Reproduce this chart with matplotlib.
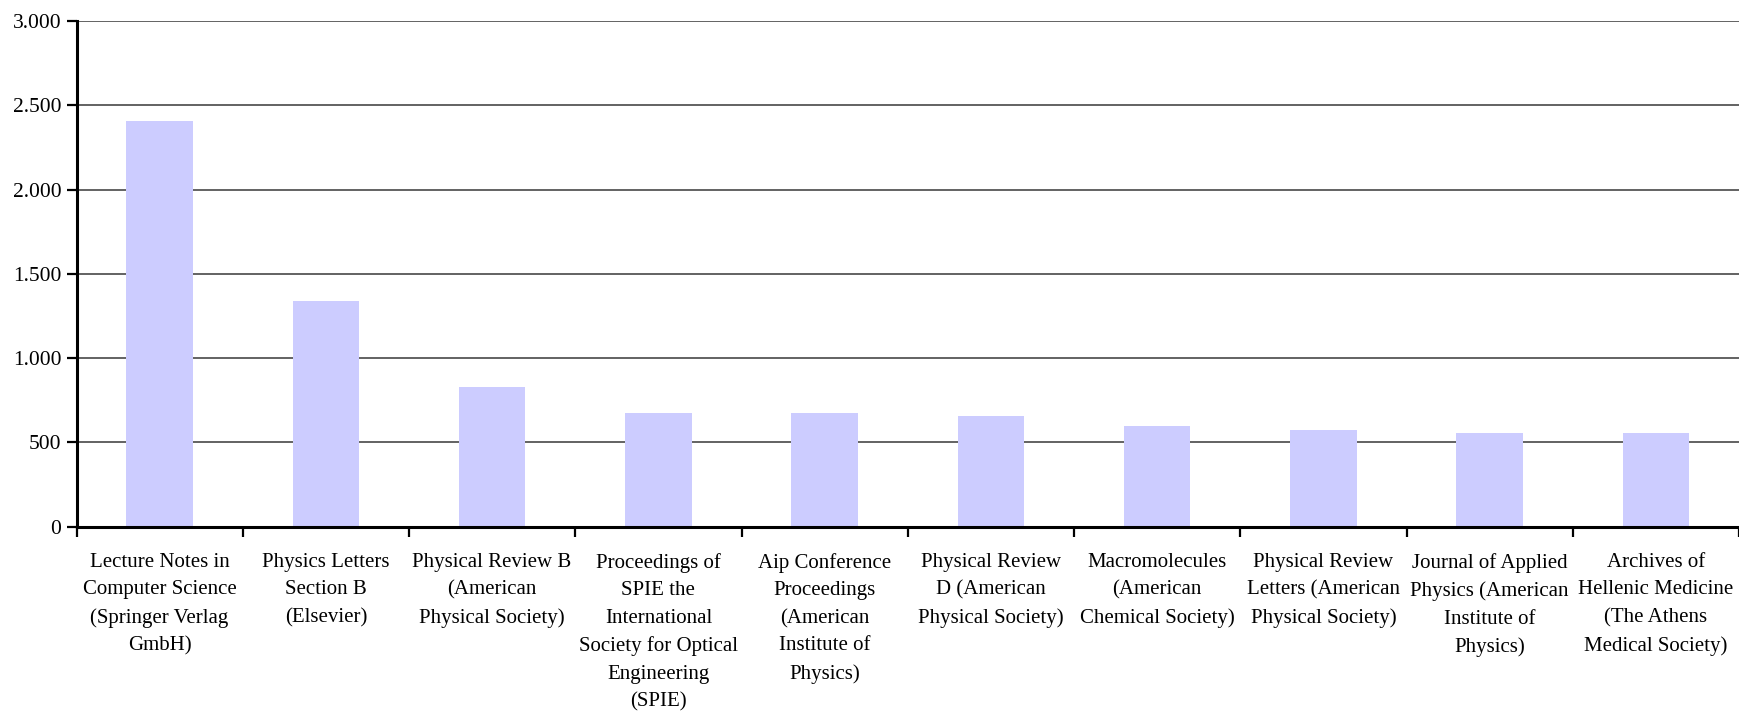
import numpy as np
import matplotlib
matplotlib.use("Agg")
import matplotlib.pyplot as plt
from matplotlib.ticker import FixedLocator

# === DATA ===
journals = [
    "Lecture Notes in\nComputer Science\n(Springer Verlag\nGmbH)",
    "Physics Letters\nSection B\n(Elsevier)",
    "Physical Review B\n(American\nPhysical Society)",
    "Proceedings of\nSPIE the\nInternational\nSociety for Optical\nEngineering\n(SPIE)",
    "Aip Conference\nProceedings\n(American\nInstitute of\nPhysics)",
    "Physical Review\nD (American\nPhysical Society)",
    "Macromolecules\n(American\nChemical Society)",
    "Physical Review\nLetters (American\nPhysical Society)",
    "Journal of Applied\nPhysics (American\nInstitute of\nPhysics)",
    "Archives of\nHellenic Medicine\n(The Athens\nMedical Society)",
]
counts = [2405, 1337, 827, 672, 672, 655, 596, 572, 554, 554]
y_ticks = [0, 500, 1000, 1500, 2000, 2500, 3000]
y_tick_labels = ["0", "500", "1.000", "1.500", "2.000", "2.500", "3.000"]

plt.rcParams['font.family'] = ['Liberation Serif', 'DejaVu Serif']

fig = plt.figure(figsize=(17.39, 7.13), dpi=100)
ax = fig.add_axes([76.5 / 1739, 1 - 526.5 / 713, 1 - 76.5 / 1739, (526.5 - 21) / 713])

x = np.arange(len(journals))
ax.bar(x, counts, width=0.4, color='#CCCCFF', zorder=2)

ax.set_xlim(-0.5, len(journals) - 0.5)
ax.set_ylim(0, 3000)

# gridlines behind bars
ax.set_yticks(y_ticks)
ax.set_yticklabels(y_tick_labels, fontsize=15.5)
ax.yaxis.grid(True, color='#383838', linewidth=1.1, zorder=0)
ax.set_axisbelow(True)

# labels centred, ticks at category boundaries
ax.set_xticks(x)
ax.set_xticklabels(journals, fontsize=15, linespacing=1.6, va='top')
ax.xaxis.set_minor_locator(FixedLocator(np.arange(-0.5, len(journals), 1.0)))
ax.tick_params(axis='x', which='major', length=0, pad=19)
ax.tick_params(axis='x', which='minor', length=7, width=1.6, direction='out', color='black')
ax.tick_params(axis='y', which='major', length=7, width=1.6, direction='out', pad=4)

for side in ['top', 'right']:
    ax.spines[side].set_visible(False)
for side in ['left', 'bottom']:
    ax.spines[side].set_linewidth(2.2)
    ax.spines[side].set_color('black')
    ax.spines[side].set_zorder(3)

fig.savefig("out.png", dpi=100)
